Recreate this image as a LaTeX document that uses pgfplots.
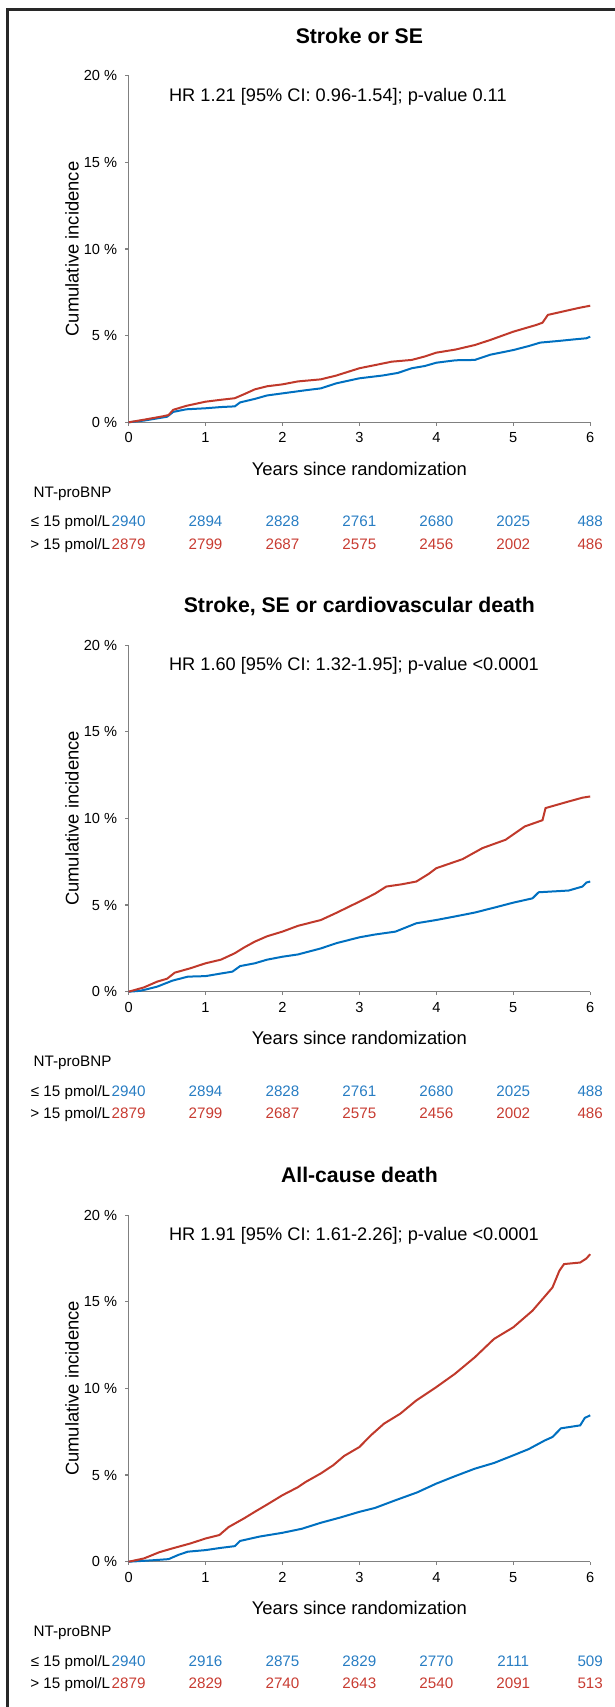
\documentclass[border=0pt]{standalone}
\usepackage{pgfplots}
\pgfplotsset{compat=1.18}
\usepackage{fontspec}
\setmainfont{Liberation Sans}
\definecolor{kmblue}{RGB}{0,112,192}
\definecolor{kmred}{RGB}{192,57,43}
\definecolor{nblue}{RGB}{40,125,195}
\definecolor{nred}{RGB}{200,60,50}
\definecolor{framec}{RGB}{40,40,40}
\pgfplotsset{km/.style={
  scale only axis, width=230.8pt, height=173.25pt,
  xmin=0, xmax=6, ymin=0, ymax=20,
  axis x line*=bottom, axis y line*=left,
  axis line style={-, draw=gray, line width=0.6pt},
  xtick={0,1,2,3,4,5,6}, xticklabels={0,1,2,3,4,5,6},
  ytick={0,5,10,15,20},
  yticklabels={0 \%,5 \%,10 \%,15 \%,20 \%},
  tick align=outside, major tick length=1.7pt,
  tick style={draw=gray, line width=0.6pt},
  tick label style={font=\fontsize{7.3}{9}\selectfont},
  yticklabel style={xshift=-0.5pt},
  /pgf/number format/assume math mode=true,
  clip=false,
  label style={font=\fontsize{9.2}{11}\selectfont},
  ylabel={Cumulative incidence},
  xlabel={Years since randomization},
  ylabel style={at={(axis description cs:-0.1225,0.5)}, anchor=center},
  xlabel style={at={(axis description cs:0.5,-0.1521)}, anchor=base},
  every axis plot/.append style={line width=1pt},
}}
\newcommand{\titlefont}{\bfseries\fontsize{10.6}{12.5}\selectfont}
\newcommand{\hrfont}{\fontsize{9.1}{11}\selectfont}
\newcommand{\rowfont}{\fontsize{7.6}{9}\selectfont}
\newcommand{\risklabels}{%
  \node[anchor=base west, font=\rowfont] at (axis description cs:-0.2208,-0.2165) {NT-proBNP};
  \node[anchor=base east, font=\rowfont, inner xsep=0pt] at (axis description cs:-0.039,-0.301) {≤ 15 pmol/L};
  \node[anchor=base east, font=\rowfont, inner xsep=0pt] at (axis description cs:-0.039,-0.366) {> 15 pmol/L};
}
\newcommand{\riskrow}[9]{%
  \node[anchor=base, font=\rowfont, text=#2] at (axis cs:0,#1) {#3};
  \node[anchor=base, font=\rowfont, text=#2] at (axis cs:1,#1) {#4};
  \node[anchor=base, font=\rowfont, text=#2] at (axis cs:2,#1) {#5};
  \node[anchor=base, font=\rowfont, text=#2] at (axis cs:3,#1) {#6};
  \node[anchor=base, font=\rowfont, text=#2] at (axis cs:4,#1) {#7};
  \node[anchor=base, font=\rowfont, text=#2] at (axis cs:5,#1) {#8};
  \node[anchor=base, font=\rowfont, text=#2] at (axis cs:6,#1) {#9};
}
\begin{document}
\begin{tikzpicture}
\path[use as bounding box] (0,0) rectangle (307.5pt,-853.5pt);
\draw[line width=1.6pt, framec] (3.9pt,-853.5pt) -- (3.9pt,-4.85pt) -- (307.5pt,-4.85pt);

% Panel 1
\begin{axis}[km, at={(64.3pt,-211.15pt)}, anchor=south west]
\addplot[kmblue] coordinates {
(0,0) (0.2,0.1) (0.5,0.32) (0.58,0.6) (0.75,0.75) (1.0,0.81) (1.2,0.88) (1.38,0.92) (1.45,1.15) (1.64,1.35) (1.8,1.55) (2.0,1.67) (2.3,1.85) (2.5,1.96) (2.7,2.25) (3.0,2.54) (3.3,2.7) (3.5,2.85) (3.68,3.12) (3.85,3.25) (4.0,3.44) (4.25,3.58) (4.5,3.6) (4.7,3.9) (5.0,4.17) (5.2,4.4) (5.35,4.6) (5.6,4.7) (5.8,4.79) (5.95,4.85) (6.0,4.94)};
\addplot[kmred] coordinates {
(0,0) (0.2,0.15) (0.45,0.35) (0.52,0.42) (0.58,0.72) (0.75,0.95) (1.0,1.19) (1.2,1.3) (1.38,1.39) (1.5,1.62) (1.64,1.9) (1.8,2.08) (2.0,2.19) (2.2,2.36) (2.5,2.48) (2.7,2.7) (3.0,3.12) (3.2,3.3) (3.42,3.5) (3.68,3.6) (3.85,3.8) (4.0,4.02) (4.25,4.2) (4.5,4.46) (4.7,4.75) (5.0,5.23) (5.3,5.62) (5.38,5.75) (5.45,6.2) (5.7,6.45) (5.85,6.6) (6.0,6.73)};
\node[anchor=base, font=\titlefont] at (axis description cs:0.5,1.0932) {Stroke or SE};
\node[anchor=base west, font=\hrfont] at (axis description cs:0.0724,0.9261) {HR 1.21 [95\% CI: 0.96-1.54]; p-value 0.11};
\risklabels
\riskrow{-6.02}{nblue}{2940}{2894}{2828}{2761}{2680}{2025}{488}
\riskrow{-7.32}{nred}{2879}{2799}{2687}{2575}{2456}{2002}{486}
\end{axis}

% Panel 2
\begin{axis}[km, at={(64.3pt,-495.85pt)}, anchor=south west]
\addplot[kmblue] coordinates {
(0,0) (0.15,0.05) (0.37,0.29) (0.57,0.64) (0.77,0.87) (1.0,0.9) (1.2,1.05) (1.35,1.16) (1.45,1.48) (1.64,1.64) (1.8,1.85) (2.0,2.02) (2.2,2.15) (2.5,2.5) (2.7,2.8) (3.0,3.14) (3.2,3.3) (3.47,3.47) (3.74,3.95) (4.0,4.14) (4.25,4.35) (4.5,4.57) (4.75,4.85) (5.0,5.14) (5.25,5.39) (5.33,5.74) (5.72,5.84) (5.9,6.07) (5.95,6.3) (6.0,6.36)};
\addplot[kmred] coordinates {
(0,0) (0.2,0.25) (0.37,0.58) (0.5,0.75) (0.6,1.1) (0.8,1.35) (1.0,1.64) (1.2,1.85) (1.38,2.22) (1.5,2.55) (1.64,2.89) (1.8,3.2) (2.0,3.47) (2.2,3.8) (2.5,4.14) (2.7,4.55) (3.0,5.2) (3.2,5.65) (3.35,6.07) (3.55,6.2) (3.74,6.36) (3.9,6.8) (4.0,7.13) (4.34,7.65) (4.6,8.29) (4.9,8.77) (5.15,9.54) (5.38,9.9) (5.42,10.6) (5.72,10.98) (5.9,11.2) (6.0,11.27)};
\node[anchor=base, font=\titlefont] at (axis description cs:0.5,1.0932) {Stroke, SE or cardiovascular death};
\node[anchor=base west, font=\hrfont] at (axis description cs:0.0724,0.9261) {HR 1.60 [95\% CI: 1.32-1.95]; p-value <0.0001};
\risklabels
\riskrow{-6.02}{nblue}{2940}{2894}{2828}{2761}{2680}{2025}{488}
\riskrow{-7.32}{nred}{2879}{2799}{2687}{2575}{2456}{2002}{486}
\end{axis}

% Panel 3
\begin{axis}[km, at={(64.3pt,-780.85pt)}, anchor=south west]
\addplot[kmblue] coordinates {
(0,0) (0.3,0.08) (0.52,0.15) (0.65,0.4) (0.77,0.58) (1.0,0.67) (1.2,0.8) (1.38,0.9) (1.45,1.2) (1.7,1.45) (2.0,1.67) (2.25,1.9) (2.5,2.25) (2.75,2.55) (3.0,2.88) (3.2,3.1) (3.47,3.55) (3.75,4.0) (4.0,4.51) (4.25,4.95) (4.5,5.37) (4.75,5.7) (5.0,6.14) (5.2,6.5) (5.41,7.0) (5.51,7.2) (5.62,7.7) (5.87,7.87) (5.93,8.3) (6.0,8.45)};
\addplot[kmred] coordinates {
(0,0) (0.2,0.19) (0.4,0.55) (0.57,0.77) (0.8,1.05) (1.0,1.34) (1.18,1.54) (1.3,2.0) (1.5,2.5) (1.64,2.88) (1.8,3.3) (2.0,3.84) (2.2,4.3) (2.3,4.6) (2.5,5.1) (2.66,5.57) (2.8,6.1) (3.0,6.62) (3.15,7.3) (3.32,7.97) (3.53,8.54) (3.74,9.31) (4.0,10.08) (4.24,10.84) (4.5,11.8) (4.75,12.86) (5.0,13.53) (5.25,14.49) (5.51,15.83) (5.6,16.8) (5.66,17.18) (5.87,17.27) (5.95,17.5) (6.0,17.75)};
\node[anchor=base, font=\titlefont] at (axis description cs:0.5,1.0932) {All-cause death};
\node[anchor=base west, font=\hrfont] at (axis description cs:0.0724,0.9261) {HR 1.91 [95\% CI: 1.61-2.26]; p-value <0.0001};
\risklabels
\riskrow{-6.02}{nblue}{2940}{2916}{2875}{2829}{2770}{2111}{509}
\riskrow{-7.32}{nred}{2879}{2829}{2740}{2643}{2540}{2091}{513}
\end{axis}
\end{tikzpicture}
\end{document}
